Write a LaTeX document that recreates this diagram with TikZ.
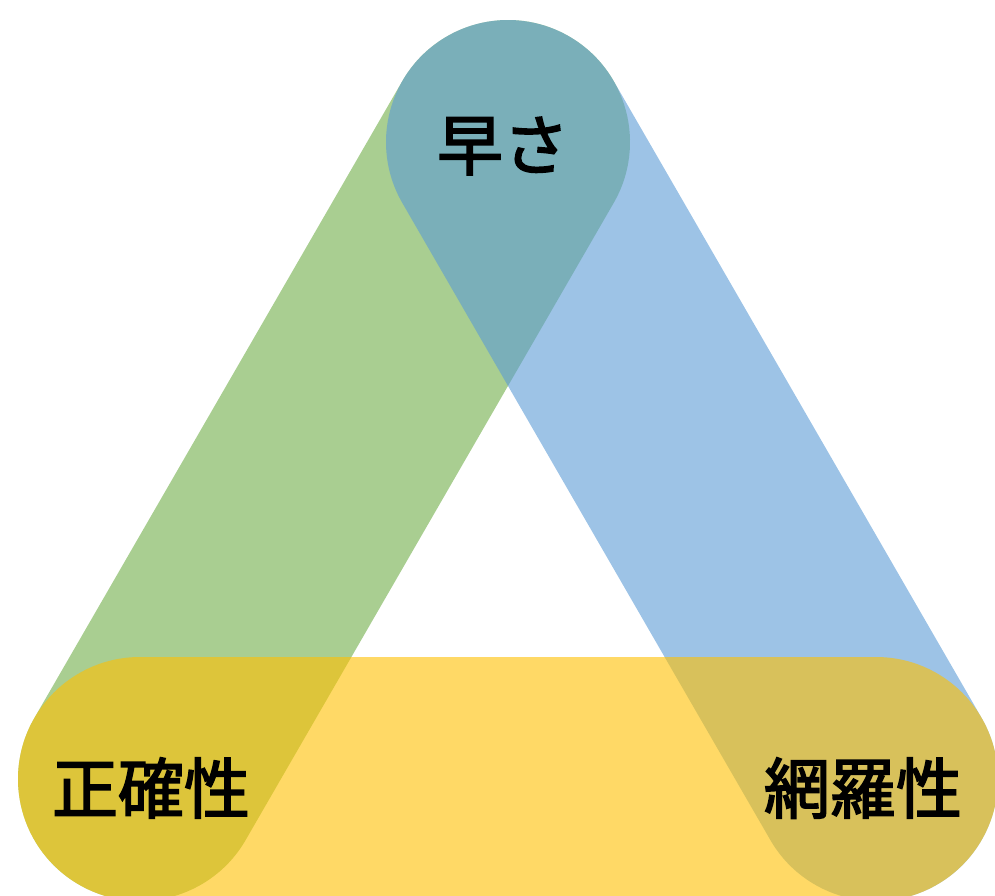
\documentclass[tikz,border=0pt]{standalone}
\usepackage{fontspec}
\newfontfamily\cjk[FakeBold=2.5]{Noto Sans CJK JP}
\definecolor{bandgreen}{HTML}{70AD47}
\definecolor{bandblue}{HTML}{5B9BD5}
\definecolor{bandyellow}{HTML}{FFC000}
\begin{document}
\begin{tikzpicture}[x=1pt,y=-1pt,
  band/.style={line width=244pt, line cap=round, draw opacity=0.6},
  lbl/.style={font=\cjk\fontsize{66}{66}\selectfont, text=black, inner sep=0pt}]
\useasboundingbox (0,0) rectangle (995,896);
\clip (0,0) rectangle (995,896);
\coordinate (T) at (508,142);
\coordinate (L) at (140,779);
\coordinate (R) at (876,779);
\draw[band, bandgreen] (T) -- (L);
\draw[band, bandblue] (T) -- (R);
\draw[band, bandyellow] (L) -- (R);
\node[lbl] (speed) at (503,146) {早さ};
\node[lbl] (accuracy) at (151,788) {正確性};
\node[lbl] (coverage) at (863,788) {網羅性};
\end{tikzpicture}
\end{document}
